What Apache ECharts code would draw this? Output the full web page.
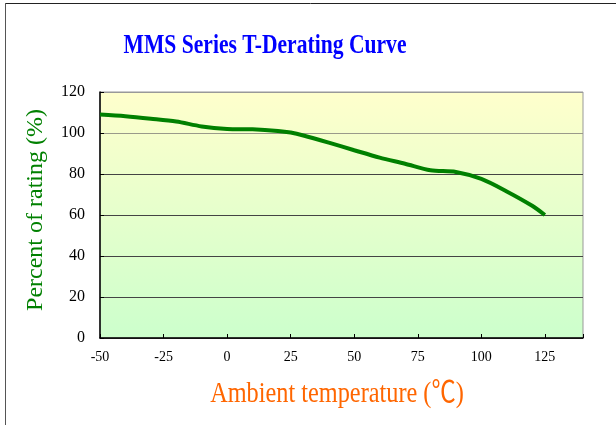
<!DOCTYPE html>
<html>
<head>
<meta charset="utf-8">
<script src="https://cdn.jsdelivr.net/npm/echarts@6/dist/echarts.min.js"></script>
<style>
html,body{margin:0;padding:0;background:#fff;}
#c{width:616px;height:425px;}
</style>
</head>
<body>
<div id="c"></div>
<script>
var temps = [-50, -40, -30, -20, -10, 0, 10, 20, 25, 30, 40, 50, 60, 70, 80, 90, 100, 110, 120, 125];
var ratings = [109, 108.2, 107, 105.6, 103.2, 102, 101.8, 101, 100.2, 98.8, 95.3, 91.6, 88, 85, 81.8, 81, 77.6, 71.5, 64.5, 60];
var xTicks = [-50, -25, 0, 25, 50, 75, 100, 125];
var yTicks = [0, 20, 40, 60, 80, 100, 120];
var titleText = 'MMS Series T-Derating Curve';
var xName = 'Ambient temperature (℃)';
var yName = 'Percent of rating (%)';

var chart = echarts.init(document.getElementById('c'));
var serif = '"Liberation Serif", "Times New Roman", "Noto Sans CJK SC", serif';
chart.setOption({
  animation: false,
  graphic: [
    { type: 'line', shape: { x1: 5, y1: 3.5, x2: 616, y2: 3.5 }, style: { stroke: '#222', lineWidth: 1 } },
    { type: 'line', shape: { x1: 5.5, y1: 3, x2: 5.5, y2: 425 }, style: { stroke: '#555', lineWidth: 1 } },
    {
      type: 'text', x: 265, y: 46, scaleX: 0.8,
      style: { text: titleText, fill: '#0000FF', fontFamily: serif, fontWeight: 'bold', fontSize: 27, align: 'center', verticalAlign: 'middle' }
    },
    {
      type: 'text', x: 337, y: 394, scaleX: 0.81,
      style: { text: xName, fill: '#FF6600', fontFamily: serif, fontSize: 30, align: 'center', verticalAlign: 'middle' }
    }
  ],
  grid: {
    left: 100, right: 33, top: 92, bottom: 87,
    show: true,
    borderColor: '#999', borderWidth: 1,
    backgroundColor: new echarts.graphic.LinearGradient(0, 0, 0, 1, [
      { offset: 0, color: '#FFFFCC' },
      { offset: 1, color: '#CCFFCC' }
    ])
  },
  xAxis: {
    type: 'value', min: -50, max: 140, interval: 25,
    axisLine: { show: true, onZero: false, lineStyle: { color: '#000', width: 1.5 } },
    axisTick: { show: true, inside: true, length: 4, lineStyle: { color: '#000' } },
    axisLabel: {
      color: '#000', fontFamily: serif, fontSize: 14, margin: 12,
      formatter: function (v) { return xTicks.indexOf(v) >= 0 ? String(v) : ''; }
    },
    splitLine: { show: false }
  },
  yAxis: {
    type: 'value', min: 0, max: 120, interval: 20,
    name: yName, nameLocation: 'middle', nameGap: 52,
    nameTextStyle: { color: '#008000', fontFamily: serif, fontSize: 24, padding: [0, 0, 0, 10] },
    axisLine: { show: true, onZero: false, lineStyle: { color: '#000', width: 1.5 } },
    axisTick: { show: true, inside: true, length: 4, lineStyle: { color: '#000' } },
    axisLabel: {
      color: '#000', fontFamily: serif, fontSize: 16, margin: 15,
      formatter: function (v) { return yTicks.indexOf(v) >= 0 ? String(v) : ''; }
    },
    splitLine: { show: true, lineStyle: { color: ['#444', '#444', '#444', '#444', '#444', '#9a9a8a', '#999'], width: 1 } }
  },
  series: [{
    type: 'line',
    data: temps.map(function (t, i) { return [t, ratings[i]]; }),
    smooth: 0.3,
    showSymbol: false,
    lineStyle: { color: '#008000', width: 4 }
  }]
});
</script>
</body>
</html>
